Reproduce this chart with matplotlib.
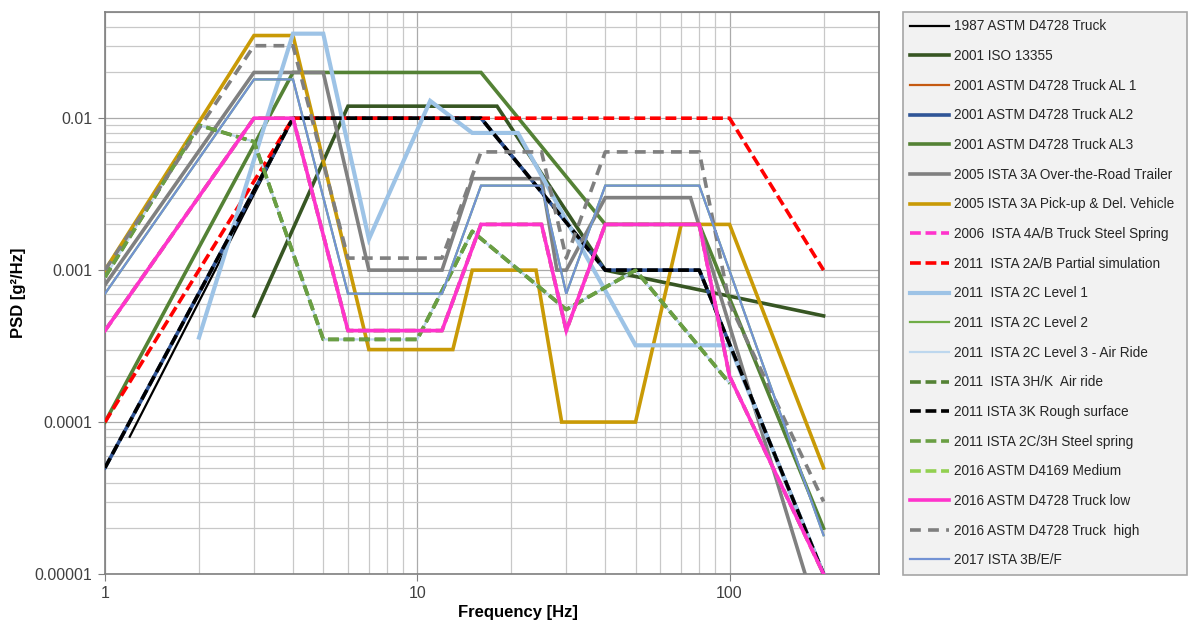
import matplotlib
matplotlib.use('Agg')
import matplotlib.pyplot as plt
from matplotlib.ticker import LogLocator, FixedLocator, FixedFormatter, NullFormatter

plt.rcParams['font.family'] = ['Liberation Sans', 'DejaVu Sans']

# Frequency [Hz] / PSD [g^2/Hz] break points
astm87_f = [1.2, 4, 16, 40, 80, 200]
astm87_psd = [0.00008, 0.01, 0.01, 0.001, 0.001, 0.00001]

iso13355_f = [3, 6, 18, 40, 200]
iso13355_psd = [0.0005, 0.012, 0.012, 0.001, 0.0005]

truck_f = [1, 4, 16, 40, 80, 200]
truck_psd = [0.00005, 0.01, 0.01, 0.001, 0.001, 0.00001]

al3_f = [1, 4, 16, 40, 80, 200]
al3_psd = [0.0001, 0.02, 0.02, 0.002, 0.002, 0.00002]

otr_f = [1, 3, 5, 7, 12, 15, 25, 28, 30, 40, 75, 200]
otr_psd = [0.0008, 0.02, 0.02, 0.001, 0.001, 0.004, 0.004, 0.001, 0.001, 0.003, 0.003, 0.000004]

pud_f = [1, 3, 4, 7, 13, 15, 24, 29, 50, 70, 100, 200]
pud_psd = [0.001, 0.035, 0.035, 0.0003, 0.0003, 0.001, 0.001, 0.0001, 0.0001, 0.002, 0.002, 0.00005]

ista2ab_f = [1, 4, 100, 200]
ista2ab_psd = [0.0001, 0.01, 0.01, 0.001]

lvl1_f = [2, 4, 5, 7, 11, 15, 21, 50, 100, 200]
lvl1_psd = [0.00036, 0.036, 0.036, 0.0016, 0.013, 0.008, 0.008, 0.00032, 0.00032, 0.00001]

ista3e_f = [1, 3, 4, 6, 12, 16, 25, 30, 40, 80, 200]
ista3e_psd = [0.0007, 0.018, 0.018, 0.0007, 0.0007, 0.0036, 0.0036, 0.0007, 0.0036, 0.0036, 0.000018]

air_f = [1, 2, 3, 5, 10, 15, 30, 50, 100]
air_psd = [0.0009, 0.009, 0.007, 0.00035, 0.00035, 0.0018, 0.00055, 0.001, 0.00018]

low_f = [1, 3, 4, 6, 12, 16, 25, 30, 40, 80, 100, 200]
low_psd = [0.0004, 0.01, 0.01, 0.0004, 0.0004, 0.002, 0.002, 0.0004, 0.002, 0.002, 0.0002, 0.00001]

high_f = [1, 3, 4, 6, 12, 16, 25, 30, 40, 80, 100, 200]
high_psd = [0.001, 0.03, 0.03, 0.0012, 0.0012, 0.006, 0.006, 0.0012, 0.006, 0.006, 0.0006, 0.00003]

y_ticks = [0.00001, 0.0001, 0.001, 0.01]
y_tick_labels = ['0.00001', '0.0001', '0.001', '0.01']
x_ticks = [1, 10, 100]
x_tick_labels = ['1', '10', '100']

DASH = (3, 1.3)
GDASH = (3, 2)

# label, f, psd, colour, width, dashes  (drawn in legend order, last on top)
series = [
    ('1987 ASTM D4728 Truck', astm87_f, astm87_psd, '#000000', 1.6, None),
    ('2001 ISO 13355', iso13355_f, iso13355_psd, '#375623', 2.6, None),
    ('2001 ASTM D4728 Truck AL 1', truck_f, truck_psd, '#c55a11', 1.6, None),
    ('2001 ASTM D4728 Truck AL2', truck_f, truck_psd, '#2f5597', 2.6, None),
    ('2001 ASTM D4728 Truck AL3', al3_f, al3_psd, '#548235', 2.6, None),
    ('2005 ISTA 3A Over-the-Road Trailer', otr_f, otr_psd, '#808080', 2.6, None),
    ('2005 ISTA 3A Pick-up & Del. Vehicle', pud_f, pud_psd, '#c99a06', 2.6, None),
    ('2006  ISTA 4A/B Truck Steel Spring', low_f, low_psd, '#ff33cc', 2.6, DASH),
    ('2011  ISTA 2A/B Partial simulation', ista2ab_f, ista2ab_psd, '#ff0000', 2.6, DASH),
    ('2011  ISTA 2C Level 1', lvl1_f, lvl1_psd, '#9dc3e6', 3.0, None),
    ('2011  ISTA 2C Level 2', ista3e_f, ista3e_psd, '#70ad47', 1.6, None),
    ('2011  ISTA 2C Level 3 - Air Ride', air_f, air_psd, '#bdd7ee', 1.6, None),
    ('2011  ISTA 3H/K  Air ride', air_f, air_psd, '#548235', 2.6, DASH),
    ('2011 ISTA 3K Rough surface', truck_f, truck_psd, '#000000', 2.6, DASH),
    ('2011 ISTA 2C/3H Steel spring', air_f, air_psd, '#6a9f43', 2.6, DASH),
    ('2016 ASTM D4169 Medium', low_f, low_psd, '#92d050', 2.6, DASH),
    ('2016 ASTM D4728 Truck low', low_f, low_psd, '#ff33cc', 2.6, None),
    ('2016 ASTM D4728 Truck  high', high_f, high_psd, '#7f7f7f', 2.6, GDASH),
    ('2017 ISTA 3B/E/F', ista3e_f, ista3e_psd, '#7392d4', 1.6, None),
]

fig = plt.figure(figsize=(11.89, 6.25), dpi=100)
ax = fig.add_axes([0.0883, 0.0816, 0.6506, 0.8992])

for i, (lbl, f, psd, col, lw, ds) in enumerate(series):
    line, = ax.plot(f, psd, color=col, lw=lw, label=lbl, zorder=3 + i * 0.1,
                    solid_joinstyle='miter', dash_capstyle='butt')
    if ds:
        line.set_dashes(ds)

ax.set_xscale('log')
ax.set_yscale('log')
ax.set_xlim(1, 300)
ax.set_ylim(0.00001, 0.05)

ax.xaxis.set_major_locator(FixedLocator(x_ticks))
ax.xaxis.set_major_formatter(FixedFormatter(x_tick_labels))
ax.yaxis.set_major_locator(FixedLocator(y_ticks))
ax.yaxis.set_major_formatter(FixedFormatter(y_tick_labels))
ax.xaxis.set_minor_locator(LogLocator(base=10, subs=range(2, 10), numticks=20))
ax.yaxis.set_minor_locator(LogLocator(base=10, subs=range(2, 10), numticks=20))
ax.xaxis.set_minor_formatter(NullFormatter())
ax.yaxis.set_minor_formatter(NullFormatter())

ax.grid(which='major', color='#aaaaaa', lw=0.9)
ax.grid(which='minor', color='#c8c8c8', lw=0.9)
ax.set_axisbelow(True)
ax.tick_params(which='minor', length=0)
ax.tick_params(which='major', length=5, color='#7f7f7f', labelsize=11.5, labelcolor='#404040')
ax.tick_params(axis='y', pad=4)
for sp in ax.spines.values():
    sp.set_color('#7f7f7f')
    sp.set_linewidth(1.2)

ax.set_xlabel('Frequency [Hz]', fontsize=12, fontweight='bold')
ax.set_ylabel('PSD [g²/Hz]', fontsize=12, fontweight='bold')
ax.xaxis.set_label_coords(0.534, -0.056)
ax.yaxis.set_label_coords(-0.102, 0.5)

leg = fig.legend(loc='upper left', bbox_to_anchor=(903 / 1189, 0, 284 / 1189, 1 - 12 / 625),
                 mode='expand', borderaxespad=0, fontsize=9.8, labelspacing=1.15,
                 handlelength=2.8, handletextpad=0.4, borderpad=0.55,
                 fancybox=False, framealpha=1, facecolor='#f2f2f2', edgecolor='#a6a6a6')
leg.get_frame().set_linewidth(1.2)
for t in leg.get_texts():
    t.set_color('#262626')

fig.savefig('out.png', dpi=100)
